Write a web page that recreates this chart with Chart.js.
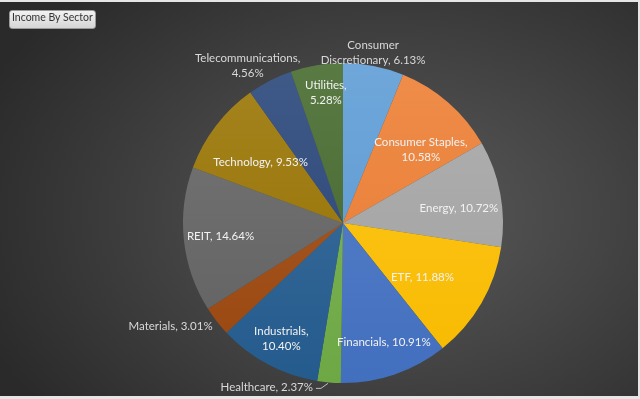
<!DOCTYPE html>
<html>
<head>
<meta charset="utf-8">
<script src="https://cdn.jsdelivr.net/npm/chart.js@4.4.0/dist/chart.umd.min.js"></script>
<style>
  html, body { margin: 0; padding: 0; background: #e6e6e6; }
  #wrap {
    position: absolute; left: 0; top: 2px; width: 638px; height: 394px;
    background: radial-gradient(ellipse 70% 80% at 62% 54%, #5a5a5a 0%, #454545 45%, #2a2a2a 100%);
  }
  #title {
    position: absolute; left: 9px; top: 8px; height: 17px; line-height: 17px;
    padding: 0 2px; white-space: nowrap;
    font: 10.5px Lato, sans-serif; color: #333;
    background: linear-gradient(#f2f2f2, #d6d6d6);
    border: 1px solid #9a9a9a; border-radius: 3px;
  }
  canvas { position: absolute; left: 0; top: 0; }
</style>
</head>
<body>
<div id="wrap">
  <canvas id="pie" width="638" height="394"></canvas>
  <div id="title">Income By Sector</div>
</div>
<script>
const sectors = ['Consumer Discretionary', 'Consumer Staples', 'Energy', 'ETF', 'Financials', 'Healthcare',
                 'Industrials', 'Materials', 'REIT', 'Technology', 'Telecommunications', 'Utilities'];
const shares = [6.13, 10.58, 10.72, 11.88, 10.91, 2.37, 10.40, 3.01, 14.64, 9.53, 4.56, 5.28];
const colors = ['#5b9bd5', '#ed7d31', '#a5a5a5', '#ffc000', '#4472c4', '#70ad47',
                '#255e91', '#9e480e', '#636363', '#997300', '#264478', '#43682b'];

// label text lines
const labelLines = [
  ['Consumer', 'Discretionary, 6.13%'], ['Consumer Staples,', '10.58%'], ['Energy, 10.72%'], ['ETF, 11.88%'],
  ['Financials, 10.91%'], ['Healthcare, 2.37%'], ['Industrials,', '10.40%'], ['Materials, 3.01%'],
  ['REIT, 14.64%'], ['Technology, 9.53%'], ['Telecommunications,', '4.56%'], ['Utilities,', '5.28%']
];
// placement: radius as fraction of pie radius, and angle nudge in degrees
const labelR = [1.08, 0.67, 0.73, 0.6, 0.79, 1.0, 0.82, 1.0, 0.77, 0.64, 1.15, 0.82];
const labelTurn = [-1, 5.5, 3.5, 4, 0, 0, 0, 0, 0, -1, -4, 2];

function shade(hex, amt) {
  const n = parseInt(hex.slice(1), 16);
  const f = c => Math.max(0, Math.min(255, Math.round(c + (amt > 0 ? (255 - c) * amt : c * amt))));
  return `rgb(${f(n >> 16)},${f((n >> 8) & 255)},${f(n & 255)})`;
}

const labelPlugin = {
  id: 'sliceLabels',
  afterDatasetsDraw(chart) {
    const ctx = chart.ctx;
    const arcs = chart.getDatasetMeta(0).data;
    ctx.save();
    ctx.font = '11.5px Lato, "Open Sans", sans-serif';
    ctx.textBaseline = 'middle';
    arcs.forEach((arc, i) => {
      const mid = (arc.startAngle + arc.endAngle) / 2 + labelTurn[i] * Math.PI / 180;
      const r = arc.outerRadius * labelR[i];
      let x = arc.x + Math.cos(mid) * r;
      let y = arc.y + Math.sin(mid) * r;
      const lines = labelLines[i];
      const outside = labelR[i] >= 1;
      ctx.fillStyle = outside ? '#d9d9d9' : '#f2f2f2';
      ctx.textAlign = 'center';
      if (sectors[i] === 'Healthcare') {
        // leader line from slice edge
        const ex = arc.x + Math.cos(mid) * arc.outerRadius;
        const ey = arc.y + Math.sin(mid) * arc.outerRadius;
        ctx.strokeStyle = '#bfbfbf';
        ctx.lineWidth = 1;
        ctx.beginPath();
        ctx.moveTo(ex - 1, ey + 1);
        ctx.lineTo(ex - 8, ey + 6);
        ctx.lineTo(ex - 13, ey + 6);
        ctx.stroke();
        ctx.textAlign = 'right';
        x = ex - 16; y = ey + 5;
      } else if (sectors[i] === 'Materials') {
        ctx.textAlign = 'right';
        x = arc.x + Math.cos(mid) * arc.outerRadius - 4;
        y = arc.y + Math.sin(mid) * arc.outerRadius * 1.05;
      }
      const lh = 15;
      lines.forEach((t, k) => {
        ctx.fillText(t, x, y + (k - (lines.length - 1) / 2) * lh);
      });
    });
    ctx.restore();
  }
};

new Chart(document.getElementById('pie'), {
  type: 'pie',
  data: {
    labels: sectors,
    datasets: [{
      data: shares,
      backgroundColor: (c) => {
        const area = c.chart.chartArea;
        if (!area) return colors[c.dataIndex];
        const g = c.chart.ctx.createLinearGradient(0, area.top, 0, area.bottom);
        g.addColorStop(0, shade(colors[c.dataIndex], 0.12));
        g.addColorStop(1, shade(colors[c.dataIndex], -0.03));
        return g;
      },
      borderWidth: 0
    }]
  },
  options: {
    responsive: false,
    animation: false,
    layout: { padding: { left: 183, right: 135, top: 61, bottom: 13 } },
    plugins: { legend: { display: false }, tooltip: { enabled: false } }
  },
  plugins: [labelPlugin]
});
</script>
</body>
</html>
